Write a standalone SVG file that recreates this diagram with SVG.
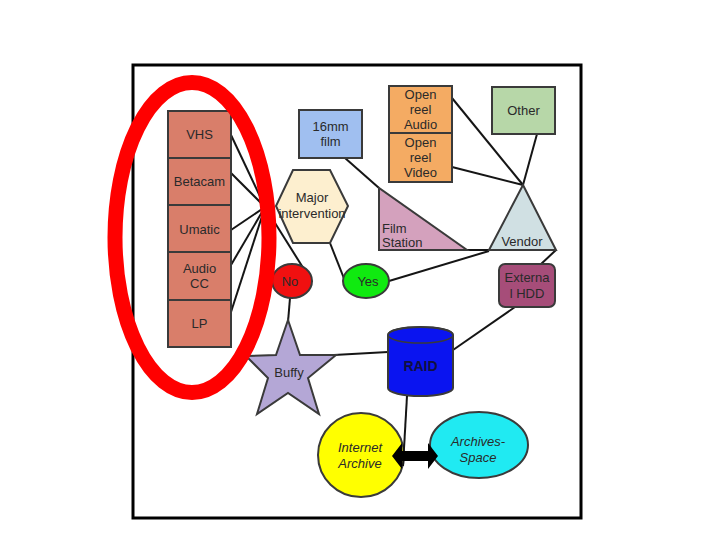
<svg xmlns="http://www.w3.org/2000/svg" width="720" height="540" viewBox="0 0 720 540">
<style>
text{font-family:"Liberation Sans",Arial,sans-serif;font-size:13px;fill:#2a2a2a;text-anchor:middle}
.c{stroke:#151515;stroke-width:2;fill:none}
.n{stroke:#3a3a3a;stroke-width:2}
.it{font-style:italic}
</style>
<rect width="720" height="540" fill="#ffffff"/>
<rect x="133" y="65" width="448" height="453" fill="none" stroke="#000" stroke-width="3"/>
<g id="connectors">
<line class="c" x1="231" y1="135" x2="265" y2="207"/>
<line class="c" x1="231" y1="173" x2="265" y2="207"/>
<line class="c" x1="231" y1="230" x2="265" y2="207"/>
<line class="c" x1="231" y1="265" x2="265" y2="207"/>
<line class="c" x1="231" y1="312" x2="265" y2="207"/>
<line class="c" x1="265" y1="207" x2="312" y2="282"/>
<line class="c" x1="330" y1="243" x2="345" y2="281"/>
<line class="c" x1="345" y1="158" x2="379" y2="188"/>
<line class="c" x1="452" y1="98" x2="523" y2="185"/>
<line class="c" x1="452" y1="167" x2="523" y2="185"/>
<line class="c" x1="537" y1="134" x2="523" y2="185"/>
<line class="c" x1="467" y1="250" x2="489" y2="250"/>
<line class="c" x1="489" y1="251" x2="389" y2="281"/>
<line class="c" x1="556" y1="250" x2="540" y2="265"/>
<line class="c" x1="515" y1="307" x2="453" y2="350"/>
<line class="c" x1="334" y1="355" x2="388" y2="352"/>
<line class="c" x1="290" y1="298" x2="288" y2="322"/>
</g>
<g id="vhs"><rect class="n" x="168" y="111" width="63" height="47" fill="#d97e6a"/><text x="199.5" y="139">VHS</text></g>
<g id="betacam"><rect class="n" x="168" y="158" width="63" height="47" fill="#d97e6a"/><text x="199.5" y="186">Betacam</text></g>
<g id="umatic"><rect class="n" x="168" y="205" width="63" height="47" fill="#d97e6a"/><text x="199.5" y="234">Umatic</text></g>
<g id="audiocc"><rect class="n" x="168" y="252" width="63" height="48" fill="#d97e6a"/><text x="199.5" y="273">Audio</text><text x="199.5" y="288">CC</text></g>
<g id="lp"><rect class="n" x="168" y="300" width="63" height="47" fill="#d97e6a"/><text x="199.5" y="328">LP</text></g>
<g id="major"><polygon class="n" points="293,170 330,170 348,206 330,243 293,243 276,206" fill="#fdefcf"/><text x="312" y="202">Major</text><text x="312" y="218">intervention</text></g>
<g id="film16"><rect class="n" x="299" y="110" width="63" height="48" fill="#a0bff0"/><text x="330.5" y="131">16mm</text><text x="330.5" y="146">film</text></g>
<g id="oraudio"><rect class="n" x="389" y="86" width="63" height="47" fill="#f4ab63"/><text x="420.5" y="99">Open</text><text x="420.5" y="114">reel</text><text x="420.5" y="129">Audio</text></g>
<g id="orvideo"><rect class="n" x="389" y="133" width="63" height="49" fill="#f4ab63"/><text x="420.5" y="147">Open</text><text x="420.5" y="162">reel</text><text x="420.5" y="177">Video</text></g>
<g id="other"><rect class="n" x="492" y="87" width="63" height="47" fill="#b7d7a8"/><text x="523.5" y="115">Other</text></g>
<g id="filmstation"><polygon class="n" points="379,188 379,250 467,250" fill="#d4a1bd"/><text x="382" y="233" style="text-anchor:start">Film</text><text x="382" y="247" style="text-anchor:start">Station</text></g>
<g id="vendor"><polygon class="n" points="523,185 556,250 489,250" fill="#d0e0e3"/><text x="522" y="246">Vendor</text></g>
<g id="hdd"><rect class="n" x="499" y="264" width="56" height="43" rx="6" fill="#a64d79"/><text x="527" y="282">Externa</text><text x="527" y="298">l HDD</text></g>
<g id="no"><ellipse class="n" cx="292" cy="281" rx="20" ry="17" fill="#f01010"/><text x="290" y="286">No</text></g>
<g id="yes"><ellipse class="n" cx="366" cy="281" rx="23" ry="17" fill="#10ea10"/><text x="368" y="286">Yes</text></g>
<g id="buffy"><polygon class="n" points="288,320 300,355 336,355 308,378 319,414 288,393 257,414 268,378 246,356 276,355" fill="#b4a7d6"/><text x="289" y="377">Buffy</text></g>
<g id="raid"><path class="n" d="M388,335 L388,388 A32.5,8 0 0 0 453,388 L453,335 A32.5,8 0 0 0 388,335 Z" fill="#0a14f0"/><ellipse cx="420.5" cy="335" rx="32.5" ry="8" fill="none" stroke="#3a3a3a" stroke-width="1.5"/><text x="420.5" y="371" style="font-weight:bold;font-size:14px;fill:#101040">RAID</text></g>
<g id="internetarchive"><ellipse class="n" cx="361" cy="455" rx="43" ry="42" fill="#ffff00"/><text class="it" x="360" y="452">Internet</text><text class="it" x="360" y="468">Archive</text></g>
<g id="archivesspace"><ellipse class="n" cx="479" cy="445" rx="49" ry="33" fill="#20eaf2"/><text class="it" x="478" y="446">Archives-</text><text class="it" x="478" y="462">Space</text></g>
<g id="links-top">
<line class="c" x1="407" y1="396" x2="403" y2="466"/>
<polygon fill="#000" points="392,456 402,443 402,451 428,451 428,443 438,456 428,469 428,461 402,461 402,469"/>
</g>
<ellipse cx="192" cy="237.5" rx="77" ry="155" fill="none" stroke="#ff0000" stroke-width="15"/>
</svg>
